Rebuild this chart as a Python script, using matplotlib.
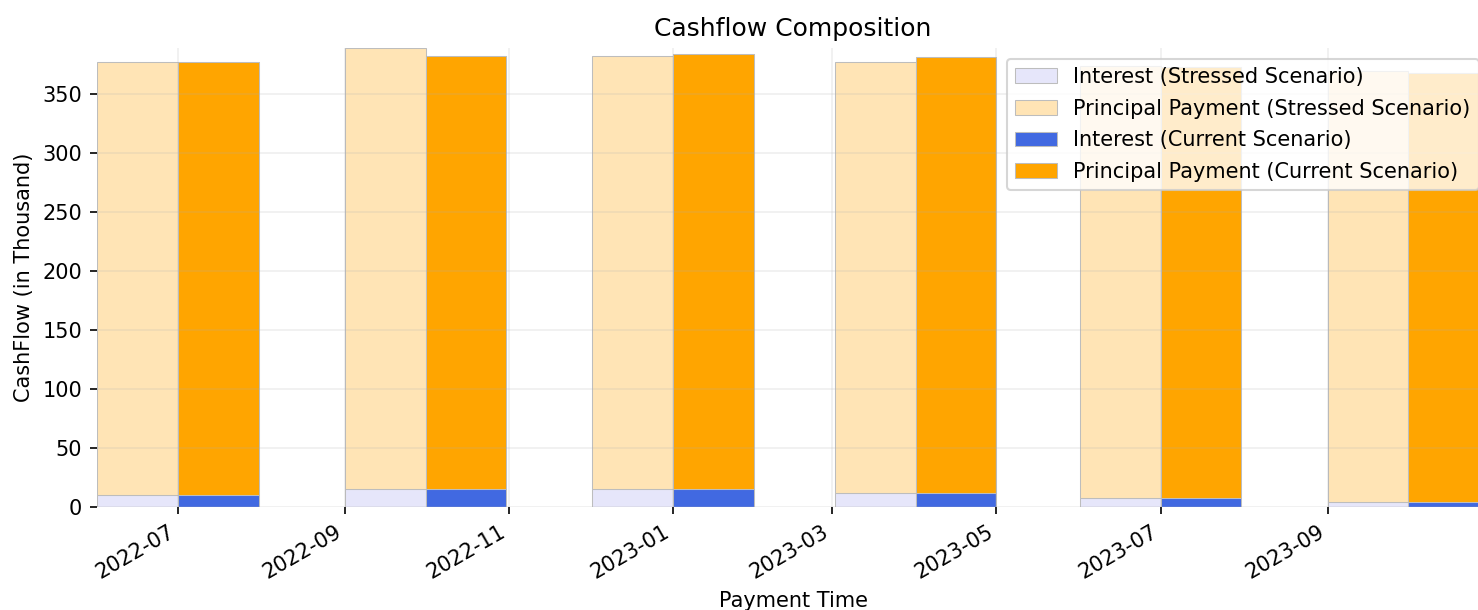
import matplotlib
matplotlib.use("Agg")
import matplotlib.pyplot as plt
import matplotlib.dates as mdates
import numpy as np
import pandas as pd

payment_dates = pd.to_datetime(["2022-07-01", "2022-10-01", "2023-01-01",
                                 "2023-04-01", "2023-07-01", "2023-10-01"])
interest_stressed = [10.4, 15.2, 15.2, 11.9, 7.3, 3.9]
total_stressed = [377.1, 388.4, 381.9, 377.1, 373.4, 369.0]
interest_current = [10.4, 15.5, 15.2, 11.9, 7.6, 4.2]
total_current = [377.1, 381.9, 383.6, 381.0, 372.8, 367.8]

principal_stressed = [t - i for t, i in zip(total_stressed, interest_stressed)]
principal_current = [t - i for t, i in zip(total_current, interest_current)]

fig = plt.figure(figsize=(1478 / 150, 610 / 150), dpi=150)
ax = fig.add_axes([0.0656, 0.169, 0.942, 0.752])

w = 30
ec = dict(edgecolor="#bdbdbd", linewidth=0.5)
ax.bar(payment_dates, interest_stressed, width=-w, align="edge",
       color="lavender", label="Interest (Stressed Scenario)", **ec)
ax.bar(payment_dates, principal_stressed, width=-w, align="edge",
       bottom=interest_stressed, color="moccasin",
       label="Principal Payment (Stressed Scenario)", **ec)
ax.bar(payment_dates, interest_current, width=w, align="edge",
       color="royalblue", label="Interest (Current Scenario)", **ec)
ax.bar(payment_dates, principal_current, width=w, align="edge",
       bottom=interest_current, color="orange",
       label="Principal Payment (Current Scenario)", **ec)

ax.set_xlim(payment_dates[0] - pd.Timedelta(days=w),
            payment_dates[-1] + pd.Timedelta(days=w))
ax.set_ylim(0, max(max(total_stressed), max(total_current)))
ax.xaxis.set_major_locator(mdates.MonthLocator(bymonth=[1, 3, 5, 7, 9, 11]))
ax.xaxis.set_major_formatter(mdates.DateFormatter("%Y-%m"))
for lab in ax.get_xticklabels():
    lab.set_rotation(30)
    lab.set_ha("right")

ax.grid(True, alpha=0.2)
for s in ax.spines.values():
    s.set_visible(False)

ax.set_title("Cashflow Composition")
ax.set_xlabel("Payment Time")
ax.set_ylabel("CashFlow (in Thousand)")
ax.legend(loc="upper right", labelspacing=0.56)

fig.savefig("out.png", dpi=150)
